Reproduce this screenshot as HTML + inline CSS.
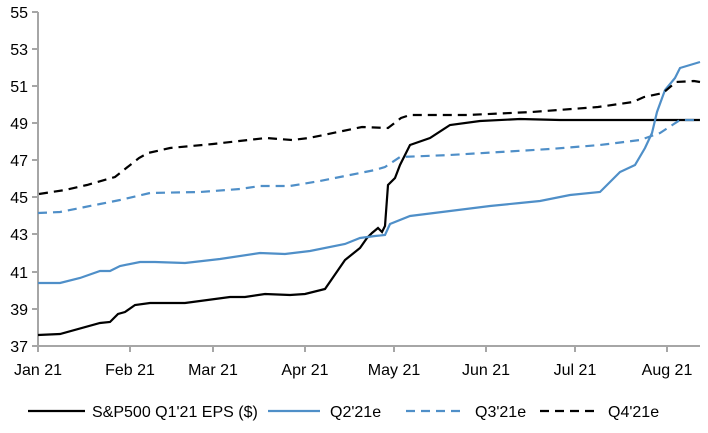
<!DOCTYPE html><html><head><style>body{margin:0;background:#fff}svg{font-family:"Liberation Sans",Arial,sans-serif}</style></head><body>
<svg width="708" height="428" viewBox="0 0 708 428">
<g stroke="#a6a6a6" stroke-width="2" fill="none">
<line x1="38" y1="12" x2="38" y2="346"/><line x1="38" y1="346" x2="700" y2="346"/>
<path d="M32 12H38M32 49H38M32 86H38M32 123H38M32 160H38M32 197H38M32 234H38M32 272H38M32 309H38M32 346H38"/>
<path d="M38 346V352M130 346V352M213 346V352M305 346V352M394 346V352M486 346V352M575 346V352M667 346V352"/>
</g>
<g font-size="16" fill="#000" text-anchor="end">
<text x="28" y="18">55</text><text x="28" y="55">53</text><text x="28" y="92">51</text><text x="28" y="129">49</text><text x="28" y="166">47</text><text x="28" y="203">45</text><text x="28" y="240">43</text><text x="28" y="278">41</text><text x="28" y="315">39</text><text x="28" y="352">37</text>
</g>
<g font-size="16" fill="#000" text-anchor="middle">
<text x="38" y="375">Jan 21</text><text x="130" y="375">Feb 21</text><text x="213" y="375">Mar 21</text><text x="305" y="375">Apr 21</text><text x="394" y="375">May 21</text><text x="486" y="375">Jun 21</text><text x="575" y="375">Jul 21</text><text x="667" y="375">Aug 21</text>
</g>
<g fill="none" stroke-width="2.2">
<polyline stroke="#000" points="38,335 60,334 100,323 110,322 118,314 125,312 135,305 150,303 185,303 230,297 245,297 265,294 290,295 305,294 325,289 345,260 360,248 367,238 372,233 378,228 382,232 385,226 388,185 395,178 400,165 410,145 430,138 450,125 480,121 520,119 560,120 700,120"/>
<polyline stroke="#4f8fc8" points="38,283 60,283 80,278 100,271 110,271 120,266 140,262 155,262 185,263 220,259 260,253 285,254 310,251 345,244 360,238 375,236 385,235 390,224 410,216 450,211 490,206 520,203 540,201 570,195 600,192 620,172 635,165 645,148 652,133 657,112 665,90 675,78 680,68 690,65 700,62"/>
<polyline stroke="#4f8fc8" stroke-dasharray="9,6" points="38,213 60,212 100,204 120,200 150,193 200,192 240,189 260,186 290,186 320,181 350,175 360,173 375,170 385,167 400,157 450,155 500,152 550,149 600,145 640,140 660,133 680,120 700,120"/>
<polyline stroke="#000" stroke-dasharray="9,6" points="39,194 65,190 87,185 115,177 139,158 148,153 170,148 213,144 266,138 292,140 309,138 362,127 388,128 401,118 410,115 467,115 532,112 598,107 633,102 644,97 663,93 676,82 694,81 700,82"/>
<line x1="28" y1="411" x2="85" y2="411" stroke="#000"/>
<line x1="268" y1="411" x2="320" y2="411" stroke="#4f8fc8"/>
<line x1="406" y1="411" x2="463" y2="411" stroke="#4f8fc8" stroke-dasharray="9,6"/>
<line x1="540" y1="411" x2="597" y2="411" stroke="#000" stroke-dasharray="9,6"/>
</g>
<g font-size="16" fill="#000">
<text x="92" y="417">S&amp;P500 Q1'21 EPS ($)</text><text x="330" y="417">Q2'21e</text><text x="475" y="417">Q3'21e</text><text x="608" y="417">Q4'21e</text>
</g>
</svg></body></html>
